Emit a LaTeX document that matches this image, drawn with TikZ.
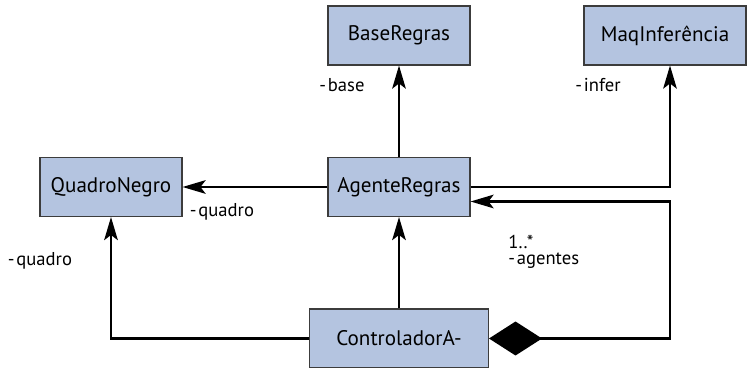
\documentclass[tikz,border=0pt]{standalone}
\usepackage{fontspec}
\setmainfont{PT Sans}
\usetikzlibrary{arrows.meta}
\definecolor{clsfill}{RGB}{180,196,224}
\definecolor{clsline}{RGB}{60,60,60}

\begin{document}
\begin{tikzpicture}[x=0.02cm, y=-0.02cm,
    cls/.style={draw=clsline, fill=clsfill, line width=0.6pt, inner sep=0pt,
      minimum height=1.18cm, font=\fontsize{12}{14}\selectfont},
    assoc/.style={line width=1.5pt, -{Stealth[length=0.46cm,width=0.27cm,inset=0.1cm]}},
    role/.style={inner sep=0pt, font=\fontsize{10.6}{12}\selectfont}]
  \useasboundingbox (0,0) rectangle (747,368);

  % classes
  \node[cls, minimum width=2.84cm] (base) at (399,35.5) {BaseRegras};
  \node[cls, minimum width=3.24cm] (maq) at (665,35.5) {MaqInferência};
  \node[cls, minimum width=2.84cm] (quadro) at (111,187) {QuadroNegro};
  \node[cls, minimum width=2.84cm] (agente) at (399,187) {AgenteRegras};
  \node[cls, minimum width=3.58cm] (ctrl) at (399,338.5) {ControladorA-};

  % right-hand rail
  \coordinate (rail) at (670,0);

  % associations
  \draw[assoc] (agente) -- (base);
  \draw[assoc] (agente) -- (quadro);
  \draw[assoc] (agente.east) -| (rail |- maq.south);
  \draw[assoc] (ctrl) -- (agente);
  \draw[assoc] (ctrl.west) -| (quadro.south);
  \draw[assoc, {Diamond[length=1.06cm,width=0.68cm]}-{Stealth[length=0.46cm,width=0.27cm,inset=0.1cm]}]
    (ctrl.east) -- (rail |- ctrl.east) |- ([yshift=-0.29cm]agente.east);

  % role names
  \node[role] (lbase) at (342,85) {-\kern1pt base};
  \node[role] (linfer) at (598,85) {-\kern1pt infer};
  \node[role] (lquadro) at (222,212) {-\kern1pt quadro};
  \node[role] (lquadroc) at (40,261) {-\kern1pt quadro};
  \node[role, anchor=west] (lmult) at (508,242) {1..*};
  \node[role, anchor=west] (lagentes) at (508,261) {-\kern1pt agentes};
\end{tikzpicture}
\end{document}
